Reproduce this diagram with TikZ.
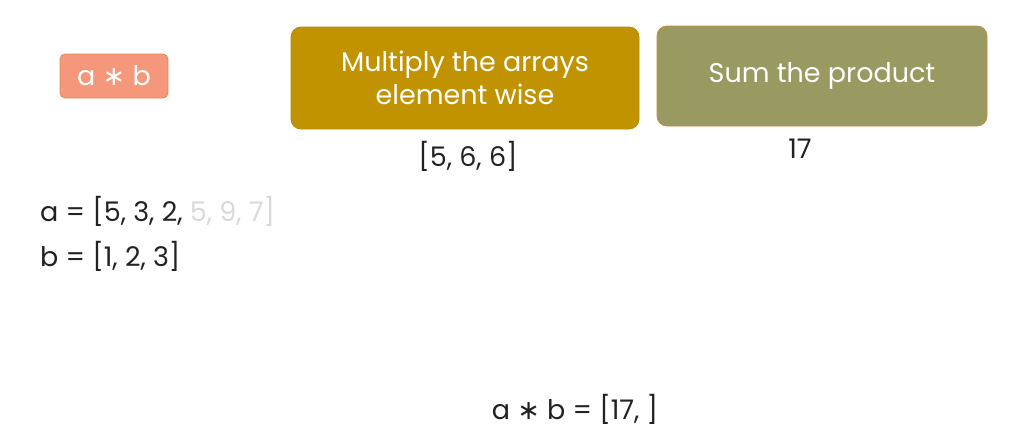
\documentclass[tikz,border=0pt]{standalone}
\usepackage{fontspec}
\setmainfont{Poppins}
\newfontfamily\symfont{DejaVu Sans}
\usetikzlibrary{positioning}
\definecolor{salmon}{HTML}{F4977A}
\definecolor{salmonline}{HTML}{DE8A52}
\definecolor{gold}{HTML}{C29300}
\definecolor{goldline}{HTML}{B38A10}
\definecolor{olive}{HTML}{999A62}
\definecolor{oliveline}{HTML}{C98A3E}
\definecolor{ink}{HTML}{222222}
\definecolor{faded}{HTML}{D9D9D9}
\newcommand{\mul}{ {\symfont ∗} }

\begin{document}
\begin{tikzpicture}[x=1pt, y=-1pt,
  step box/.style={draw, rounded corners=10pt, line width=0.8pt, text=white,
                   align=center, font=\fontsize{27}{33}\selectfont, inner sep=0pt},
  tag/.style={step box, rounded corners=5pt, fill=salmon, draw=salmonline,
              minimum width=108pt, minimum height=44pt},
  mult/.style={step box, fill=gold, draw=goldline,
               minimum width=348pt, minimum height=102pt},
  total/.style={step box, fill=olive, draw=oliveline,
                minimum width=330pt, minimum height=100pt},
  result/.style={text=ink, font=\fontsize{27}{32}\selectfont, inner sep=0pt},
  array/.style={result, anchor=west}
]
\useasboundingbox (0,0) rectangle (1022,445);

\node[tag]   (expr) at (114,76)  {a\mul b};
\node[mult]  (p1)   at (465,78)  {Multiply the arrays\\element wise};
\node[total] (p2)   at (822,76)  {Sum the product};

\node[result, below=12pt of p1, xshift=3pt]  (r1) {[5, 6, 6]};
\node[result, below=12pt of p2, xshift=-22pt] (r2) {17};

\node[array] (a) at (40,211) {a = [5, 3, 2, \textcolor{faded}{5, 9, 7]}};
\node[array] (b) at (40,256) {b = [1, 2, 3]};

\node[result] (out) at (575,409) {a\mul b = [17, ]};
\end{tikzpicture}
\end{document}
